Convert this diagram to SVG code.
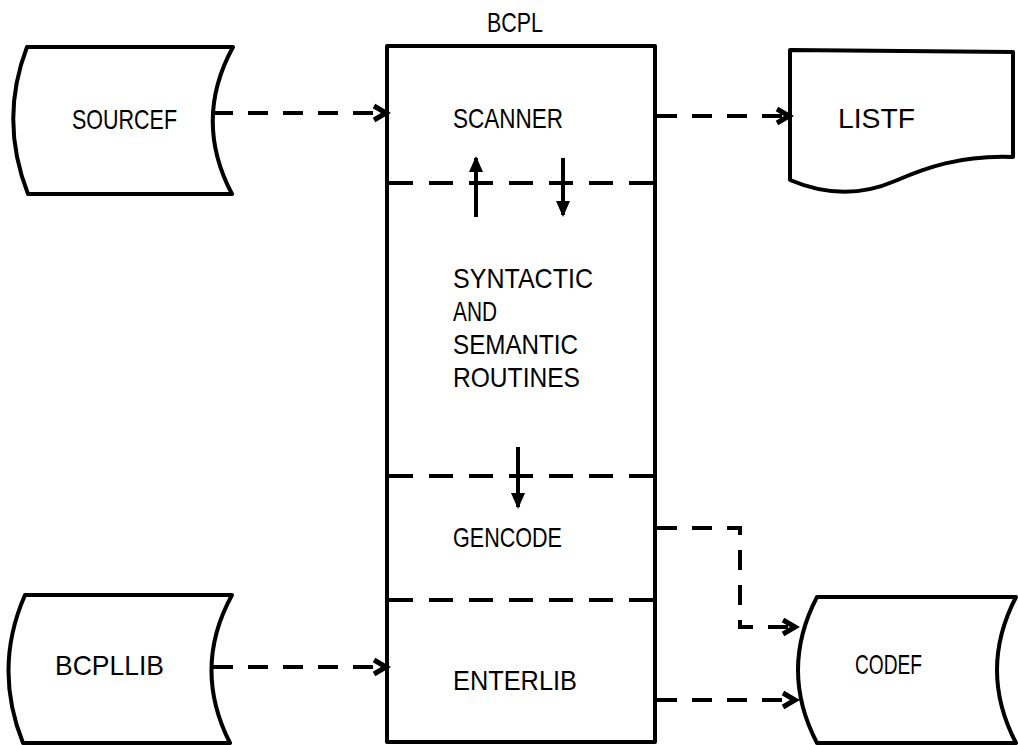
<svg xmlns="http://www.w3.org/2000/svg" width="1018" height="745" viewBox="0 0 1018 745">
<style>
.shape{fill:#fff;stroke:#000;stroke-width:4;stroke-linejoin:round}
.lbl{font-family:"Liberation Sans",Arial,sans-serif;font-size:28px;fill:#000}
.dash{fill:none;stroke:#000;stroke-width:4;stroke-dasharray:20 15}
.sep{fill:none;stroke:#000;stroke-width:4;stroke-dasharray:24 16}
.solid{fill:none;stroke:#000;stroke-width:4}
</style>
<defs>
<marker id="chev" markerUnits="userSpaceOnUse" markerWidth="20" markerHeight="20" refX="14" refY="8" orient="auto" overflow="visible">
<path d="M2,1 L14,8 L2,15" fill="none" stroke="#000" stroke-width="5" stroke-linejoin="miter"/>
</marker>
<marker id="tri" markerUnits="userSpaceOnUse" markerWidth="16" markerHeight="16" refX="14" refY="7" orient="auto" overflow="visible">
<path d="M0,0 L16,7 L0,14 Z" fill="#000"/>
</marker>
</defs>
<rect width="1018" height="745" fill="#fff"/>

<g id="bcpl">
<text class="lbl" x="487" y="32" textLength="56" lengthAdjust="spacingAndGlyphs">BCPL</text>
<rect class="shape" x="387" y="46" width="268" height="696"/>
<line class="sep" x1="389" y1="183" x2="653" y2="183"/>
<line class="sep" x1="389" y1="476" x2="653" y2="476"/>
<line class="sep" x1="389" y1="600" x2="653" y2="600"/>
<text class="lbl" x="453" y="128" textLength="110" lengthAdjust="spacingAndGlyphs">SCANNER</text>
<text class="lbl" x="453" y="288" textLength="140" lengthAdjust="spacingAndGlyphs">SYNTACTIC</text>
<text class="lbl" x="453" y="321" textLength="44" lengthAdjust="spacingAndGlyphs">AND</text>
<text class="lbl" x="453" y="354" textLength="125" lengthAdjust="spacingAndGlyphs">SEMANTIC</text>
<text class="lbl" x="453" y="387" textLength="127" lengthAdjust="spacingAndGlyphs">ROUTINES</text>
<text class="lbl" x="453" y="547" textLength="109" lengthAdjust="spacingAndGlyphs">GENCODE</text>
<text class="lbl" x="453" y="690" textLength="124" lengthAdjust="spacingAndGlyphs">ENTERLIB</text>
</g>

<g id="sourcef">
<path class="shape" d="M27,47 L233,47 Q193,120 232,194 L28,194 Q-1,120 27,47 Z"/>
<text class="lbl" x="72" y="129" textLength="105" lengthAdjust="spacingAndGlyphs">SOURCEF</text>
</g>

<g id="listf">
<path class="shape" d="M790,50 L1013,52 L1013,157 C960,155 925,168 895,181 C865,194 830,197 790,180 Z"/>
<text class="lbl" x="838" y="128" textLength="77" lengthAdjust="spacingAndGlyphs">LISTF</text>
</g>

<g id="bcpllib">
<path class="shape" d="M25,595 L232,595 Q192,668 230,743 L23,743 Q-7,668 25,595 Z"/>
<text class="lbl" x="55" y="675" textLength="109" lengthAdjust="spacingAndGlyphs">BCPLLIB</text>
</g>

<g id="codef">
<path class="shape" d="M817,597 L1016,597 Q978,670 1016,743 L817,743 Q779,670 817,597 Z"/>
<text class="lbl" x="855" y="674" textLength="67" lengthAdjust="spacingAndGlyphs">CODEF</text>
</g>

<g id="connectors">
<line class="dash" x1="213" y1="113" x2="386" y2="113" marker-end="url(#chev)"/>
<line class="dash" x1="657" y1="116" x2="789" y2="116" marker-end="url(#chev)"/>
<line class="dash" x1="213" y1="667" x2="386" y2="667" marker-end="url(#chev)"/>
<path class="dash" d="M657,528 L740,528 L740,627 L795,627" marker-end="url(#chev)"/>
<line class="dash" x1="657" y1="700" x2="795" y2="700" marker-end="url(#chev)"/>
<line class="solid" x1="476" y1="217" x2="476" y2="158" marker-end="url(#tri)"/>
<line class="solid" x1="563" y1="158" x2="563" y2="215" marker-end="url(#tri)"/>
<line class="solid" x1="518" y1="447" x2="518" y2="507" marker-end="url(#tri)"/>
</g>
</svg>
